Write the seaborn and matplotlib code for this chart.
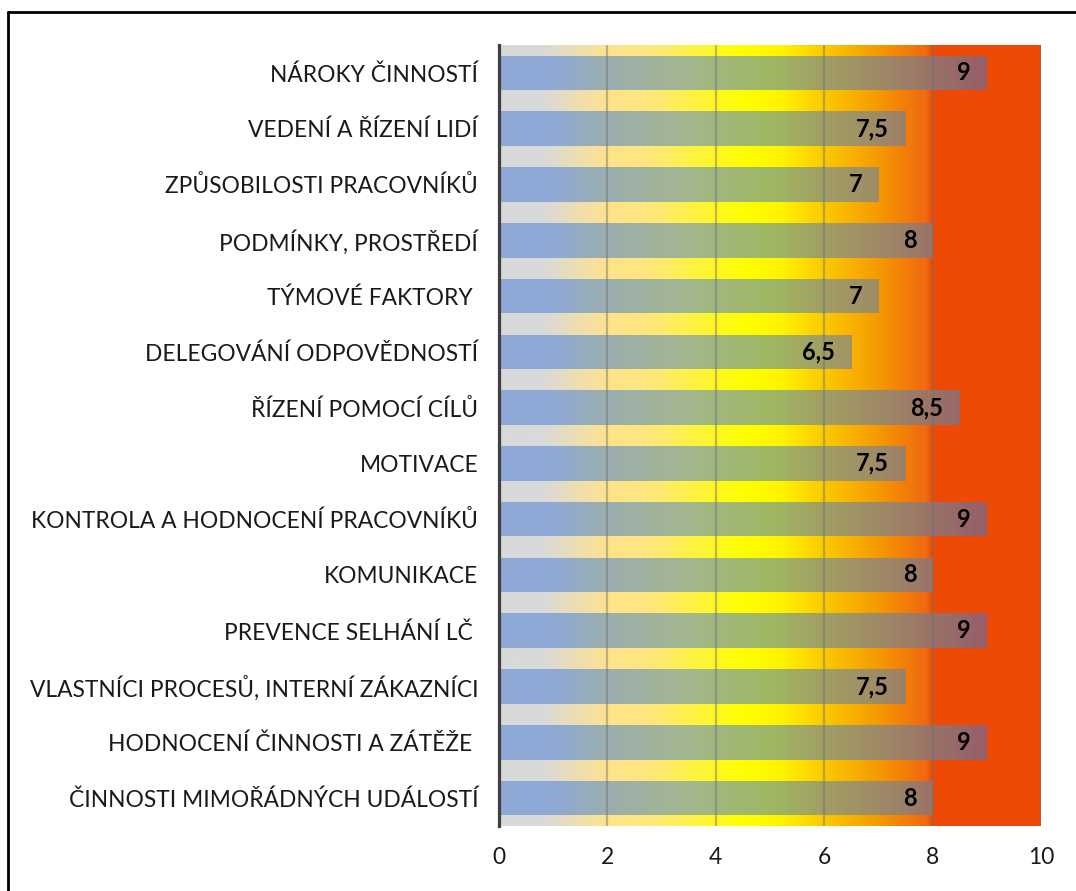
import numpy as np
import pandas as pd
import matplotlib
matplotlib.use("Agg")
import matplotlib.pyplot as plt
from matplotlib.colors import LinearSegmentedColormap
from matplotlib.lines import Line2D
import seaborn as sns

# Survey categories (top to bottom) and their scores
categories = [
    "NÁROKY ČINNOSTÍ",
    "VEDENÍ A ŘÍZENÍ LIDÍ",
    "ZPŮSOBILOSTI PRACOVNÍKŮ",
    "PODMÍNKY, PROSTŘEDÍ",
    "TÝMOVÉ FAKTORY ",
    "DELEGOVÁNÍ ODPOVĚDNOSTÍ",
    "ŘÍZENÍ POMOCÍ CÍLŮ",
    "MOTIVACE",
    "KONTROLA A HODNOCENÍ PRACOVNÍKŮ",
    "KOMUNIKACE",
    "PREVENCE SELHÁNÍ LČ ",
    "VLASTNÍCI PROCESŮ, INTERNÍ ZÁKAZNÍCI",
    "HODNOCENÍ ČINNOSTI A ZÁTĚŽE ",
    "ČINNOSTI MIMOŘÁDNÝCH UDÁLOSTÍ",
]
scores = [9, 7.5, 7, 8, 7, 6.5, 8.5, 7.5, 9, 8, 9, 7.5, 9, 8]
x_ticks = [0, 2, 4, 6, 8, 10]

df = pd.DataFrame({"kategorie": categories, "hodnota": scores})

sns.set_style("white")
plt.rcParams["font.family"] = ["Lato", "DejaVu Sans"]

fig = plt.figure(figsize=(10.76, 8.91), dpi=100)
ax = fig.add_axes([499 / 1076, 1 - 826 / 891, 542 / 1076, 781 / 891])

# Background scale: grey -> yellow -> orange -> red
bg_cmap = LinearSegmentedColormap.from_list("bg", [
    (0.00, "#d9d9d9"), (0.08, "#d9d9d9"), (0.20, "#ffe38c"), (0.28, "#ffe77c"),
    (0.45, "#ffff00"), (0.52, "#fff400"), (0.60, "#fbca00"), (0.70, "#f59a00"),
    (0.79, "#f06810"), (0.80, "#ee4a05"), (1.00, "#ee4a05"),
])
# Bar fill: blue -> green -> mauve
bar_cmap = LinearSegmentedColormap.from_list("bar", [
    (0.00, "#8ea9d5"), (0.10, "#8ea9d5"), (0.20, "#9caeae"), (0.35, "#a3b78e"),
    (0.50, "#9fb862"), (0.60, "#a19e64"), (0.70, "#9e8b66"), (0.80, "#9a7368"),
    (0.90, "#965e6a"), (1.00, "#955868"),
])

grad = np.linspace(0, 1, 512).reshape(1, -1)
n = len(categories)
ax.imshow(grad, cmap=bg_cmap, aspect="auto", extent=(0, 10, n - 0.5, -0.5), zorder=0)

sns.barplot(data=df, x="hodnota", y="kategorie", orient="h", ax=ax,
            width=0.62, color="#8ea9d5", zorder=2)

for patch in ax.patches:
    patch.set_facecolor("none")
    patch.set_edgecolor("none")
    im = ax.imshow(grad, cmap=bar_cmap, aspect="auto",
                   extent=(0, 10, n - 0.5, -0.5), zorder=2)
    im.set_clip_path(patch)

ax.set_xlim(0, 10)
ax.set_ylim(n - 0.5, -0.5)

for xv in x_ticks[1:]:
    ax.axvline(xv, color="#6f6f6f", alpha=0.45, lw=1.6, zorder=3)

for i, v in enumerate(scores):
    label = f"{v:g}".replace(".", ",")
    ax.text(v - 0.3, i, label, ha="right", va="center", fontsize=17,
            fontweight="bold", color="black", zorder=4)

ax.set_xticks(x_ticks)
ax.set_xticklabels([str(t) for t in x_ticks])
ax.set_xlabel("")
ax.set_ylabel("")
ax.tick_params(axis="both", length=0, labelsize=16.4, colors="#1a1a1a")
ax.tick_params(axis="y", pad=15)
ax.tick_params(axis="x", pad=15)
for side in ["top", "right", "bottom"]:
    ax.spines[side].set_visible(False)
ax.spines["left"].set_color("#404040")
ax.spines["left"].set_linewidth(2.3)
ax.spines["left"].set_zorder(5)

# Outer frame (top and left edges)
fx, fy = 8 / 1076, 1 - 12 / 891
fig.add_artist(Line2D([fx, 1.0], [fy, fy], transform=fig.transFigure, color="black", lw=2))
fig.add_artist(Line2D([fx, fx], [0.0, fy], transform=fig.transFigure, color="black", lw=2))

fig.savefig("out.png", dpi=100, facecolor="white")
